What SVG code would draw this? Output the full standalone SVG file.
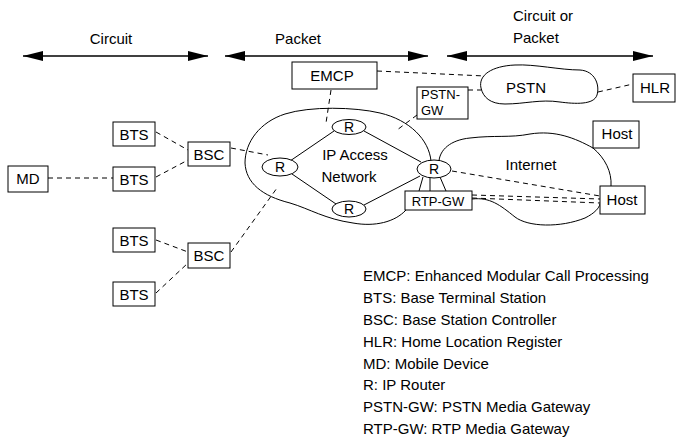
<svg xmlns="http://www.w3.org/2000/svg" width="677" height="441" viewBox="0 0 677 441">
<style>
text{font-family:"Liberation Sans",Arial,sans-serif;font-size:15px;fill:#000}
.c{text-anchor:middle}
.box{fill:#fff;stroke:#000;stroke-width:1}
.ell{fill:#fff;stroke:#000;stroke-width:1}
.sol{fill:none;stroke:#000;stroke-width:1}
.dash{fill:none;stroke:#000;stroke-width:1;stroke-dasharray:5,4}
.arr{stroke:#000;stroke-width:1.5;marker-start:url(#ah);marker-end:url(#ah)}
.sm{font-size:13px}
.r{font-size:14px}
</style>
<defs>
<marker id="ah" viewBox="0 0 20 10" refX="20" refY="5" markerWidth="20" markerHeight="10" markerUnits="userSpaceOnUse" orient="auto-start-reverse">
<path d="M0,0 L20,5 L0,10 Z" fill="#000"/>
</marker>
</defs>
<g id="scopes">
<text class="c" x="111" y="44">Circuit</text>
<line class="arr" x1="23" y1="56" x2="208" y2="56"/>
<text class="c" x="298" y="44">Packet</text>
<line class="arr" x1="225" y1="56" x2="428" y2="56"/>
<text x="513" y="21">Circuit or</text>
<text x="513" y="43">Packet</text>
<line class="arr" x1="447" y1="56" x2="653" y2="56"/>
</g>
<g id="clouds">
<path id="ip-cloud" class="sol" d="M431,161 C429,140 410,120 380,113 C355,107 310,106 285,114 C260,122 245,142 245,163 C246,183 262,196 290,203 C310,209 325,219 353,223 C375,227 395,222 406,210"/>
<path id="internet-top" class="sol" d="M439,161 C440,150 450,140 470,138 C495,135 510,138 530,134 C555,130 575,138 593,148 C605,158 612,172 611,186"/>
<path id="internet-bottom" class="sol" d="M472,199 C490,197 500,205 515,217 C528,227 560,228 585,218 C595,213 599,208 600,204"/>
<path id="pstn-cloud" class="sol" d="M481,88 C478,75 492,66 515,65 C535,64 560,70 580,70 C595,71 600,85 597,95 C594,105 575,104 560,102 C540,99 525,104 505,104 C490,104 483,97 481,88 Z"/>
<text class="c" x="526" y="93">PSTN</text>
<text class="c" x="531" y="170">Internet</text>
<text class="c" x="355" y="160">IP Access</text>
<text class="c" x="349" y="182">Network</text>
</g>
<g id="connectors">
<line class="dash" x1="48" y1="178" x2="113" y2="178"/>
<line class="dash" x1="156" y1="132" x2="188" y2="150"/>
<line class="dash" x1="156" y1="177" x2="188" y2="160"/>
<line class="dash" x1="231" y1="148" x2="268" y2="155"/>
<line class="dash" x1="156" y1="240" x2="188" y2="252"/>
<line class="dash" x1="156" y1="293" x2="188" y2="263"/>
<line class="dash" x1="231" y1="252" x2="277" y2="188"/>
<line class="dash" x1="331" y1="90" x2="326" y2="123"/>
<line class="dash" x1="377" y1="71" x2="485" y2="76"/>
<line class="dash" x1="468" y1="90" x2="481" y2="90"/>
<line class="dash" x1="598" y1="92" x2="633" y2="84"/>
<line class="dash" x1="417" y1="115" x2="397" y2="130"/>
<line class="dash" x1="452" y1="171" x2="600" y2="196"/>
<line class="dash" x1="472" y1="195" x2="600" y2="199"/>
<line class="dash" x1="472" y1="198" x2="600" y2="203"/>
<line class="sol" x1="290" y1="161" x2="334" y2="131"/>
<line class="sol" x1="292" y1="174" x2="336" y2="204"/>
<line class="sol" x1="364" y1="131" x2="421" y2="162"/>
<line class="sol" x1="364" y1="205" x2="420" y2="176"/>
<line class="sol" x1="423" y1="177" x2="419" y2="191"/>
<line class="sol" x1="430" y1="178" x2="430" y2="191"/>
<line class="sol" x1="440" y1="177" x2="446" y2="191"/>
</g>
<g id="MD"><rect class="box" x="8" y="166" width="40" height="26"/><text class="c" x="28" y="184">MD</text></g>
<g id="BTS1"><rect class="box" x="113" y="122" width="42" height="24"/><text class="c" x="134" y="139.5">BTS</text></g>
<g id="BTS2"><rect class="box" x="113" y="167" width="42" height="24"/><text class="c" x="134" y="184.5">BTS</text></g>
<g id="BTS3"><rect class="box" x="113" y="228" width="42" height="24"/><text class="c" x="134" y="245.5">BTS</text></g>
<g id="BTS4"><rect class="box" x="113" y="282" width="42" height="24"/><text class="c" x="134" y="299.5">BTS</text></g>
<g id="BSC1"><rect class="box" x="188" y="142" width="42" height="24"/><text class="c" x="209" y="159.5">BSC</text></g>
<g id="BSC2"><rect class="box" x="188" y="243" width="42" height="25"/><text class="c" x="209" y="261">BSC</text></g>
<g id="EMCP"><rect class="box" x="292" y="62" width="85" height="27"/><text class="c" x="332" y="81">EMCP</text></g>
<g id="PSTN-GW"><rect class="box" x="417" y="87" width="51" height="32"/><text class="sm" x="421" y="99">PSTN-</text><text class="sm" x="421" y="115">GW</text></g>
<g id="HLR"><rect class="box" x="633" y="74" width="42" height="28"/><text class="c" x="655" y="93">HLR</text></g>
<g id="Host1"><rect class="box" x="593" y="121" width="46" height="27"/><text class="c" x="617" y="139">Host</text></g>
<g id="Host2"><rect class="box" x="600" y="186" width="45" height="28"/><text class="c" x="622" y="205">Host</text></g>
<g id="RTP-GW"><rect class="box" x="405" y="191" width="67" height="19"/><text class="sm c" x="438" y="205.5">RTP-GW</text></g>
<g id="R-top"><ellipse class="ell" cx="349" cy="127" rx="17" ry="7.5"/><text class="r c" x="349" y="132">R</text></g>
<g id="R-left"><ellipse class="ell" cx="280" cy="167" rx="18" ry="9"/><text class="r c" x="280" y="172">R</text></g>
<g id="R-bottom"><ellipse class="ell" cx="349" cy="209" rx="17" ry="8"/><text class="r c" x="349" y="214">R</text></g>
<g id="R-right"><ellipse class="ell" cx="434" cy="169" rx="17" ry="9"/><text class="r c" x="434" y="174">R</text></g>
<g id="legend">
<text x="363" y="281">EMCP: Enhanced Modular Call Processing</text>
<text x="363" y="303">BTS: Base Terminal Station</text>
<text x="363" y="325">BSC: Base Station Controller</text>
<text x="363" y="347">HLR: Home Location Register</text>
<text x="363" y="368.5">MD: Mobile Device</text>
<text x="363" y="390">R: IP Router</text>
<text x="363" y="412">PSTN-GW: PSTN Media Gateway</text>
<text x="363" y="434">RTP-GW: RTP Media Gateway</text>
</g>
</svg>
